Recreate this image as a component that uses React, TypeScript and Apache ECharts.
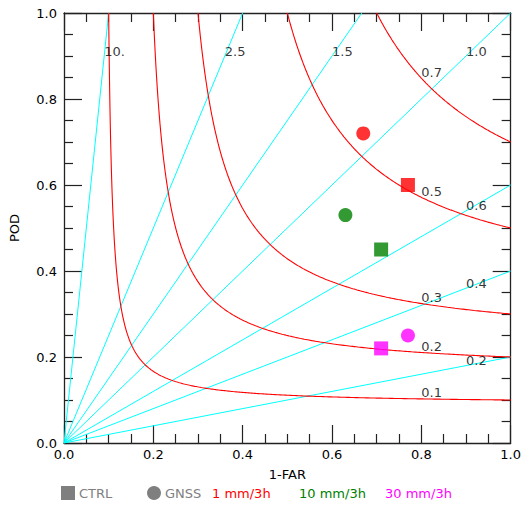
import React, { useEffect, useRef } from "react";
import * as echarts from "echarts";

// Reference lines of the performance diagram
const biasLevels = [10, 2.5, 1.5, 1.0, 0.6, 0.4, 0.2];
const biasLabels = ["10.", "2.5", "1.5", "1.0", "0.6", "0.4", "0.2"];
const csiLevels = [0.1, 0.2, 0.3, 0.5, 0.7];
const csiLabels = ["0.1", "0.2", "0.3", "0.5", "0.7"];

// Tick labels
const tickValues = [0, 0.2, 0.4, 0.6, 0.8, 1.0];

// Scores (x = 1-FAR, y = POD) per threshold
const thresholds = ["1 mm/3h", "10 mm/3h", "30 mm/3h"];
const thresholdColors = ["#ff0000", "#008000", "#ff00ff"];
const ctrlSR = [0.77, 0.71, 0.71];
const ctrlPOD = [0.6, 0.45, 0.22];
const gnssSR = [0.67, 0.63, 0.77];
const gnssPOD = [0.72, 0.53, 0.25];

const FONT = "DejaVu Sans";

function csiCurve(csi: number): number[][] {
  const pts: number[][] = [];
  const n = 300;
  for (let i = 0; i <= n; i++) {
    const t = i / n;
    const sr = csi + (1 - csi) * t * t;
    const pod = 1 / (1 / csi + 1 - 1 / sr);
    pts.push([sr, Math.min(1, pod)]);
  }
  return pts;
}

export default function App() {
  const ref = useRef<HTMLDivElement>(null);
  useEffect(() => {
    if (!ref.current) return;
    const chart = echarts.init(ref.current, undefined, { renderer: "svg" });
    const axisColor = "#222";
    const baseAxis = {
      min: 0,
      max: 1,
      interval: 0.2,
      axisLine: { show: true, onZero: false, lineStyle: { color: axisColor, width: 1.3 } },
      axisTick: { show: true, inside: true, length: 18, lineStyle: { color: axisColor, width: 1.2 } },
      minorTick: { show: true, splitNumber: 4, length: 9, lineStyle: { color: axisColor, width: 1.2 } },
      splitLine: { show: false },
    };
    const series: any[] = [];
    biasLevels.forEach((b) => {
      series.push({
        type: "line",
        data: [
          [0, 0],
          [Math.min(1, 1 / b), Math.min(1, b)],
        ],
        symbol: "none",
        silent: true,
        lineStyle: { color: "#00ffff", width: 1 },
        z: 2,
      });
    });
    csiLevels.forEach((c) => {
      series.push({
        type: "line",
        data: csiCurve(c),
        symbol: "none",
        silent: true,
        lineStyle: { color: "#ff0000", width: 1.1 },
        z: 3,
      });
    });
    const biasLabelData = biasLevels.map((b, i) =>
      b >= 1 ? [0.9 / b, 0.9, biasLabels[i]] : [0.9, 0.9 * b, biasLabels[i]]
    );
    const csiLabelData = csiLevels.map((c, i) => [0.8, 1 / (1 / c + 1 - 1 / 0.8), csiLabels[i]]);
    const labelSeries = (data: any[], dy: number) => ({
      type: "scatter",
      data,
      symbolSize: 0,
      silent: true,
      z: 4,
      label: {
        show: true,
        position: [0, 0],
        align: "left",
        verticalAlign: "middle",
        offset: [0, dy],
        formatter: (p: any) => p.data[2],
        fontFamily: FONT,
        fontSize: 13,
        color: "#000",
      },
    });
    series.push(labelSeries(biasLabelData, -5));
    series.push(labelSeries(csiLabelData, -6));
    thresholds.forEach((t, i) => {
      series.push({
        type: "scatter",
        name: "CTRL " + t,
        data: [[ctrlSR[i], ctrlPOD[i]]],
        symbol: "rect",
        symbolSize: 14,
        itemStyle: { color: thresholdColors[i] },
        z: 5,
      });
      series.push({
        type: "scatter",
        name: "GNSS " + t,
        data: [[gnssSR[i], gnssPOD[i]]],
        symbol: "circle",
        symbolSize: 14,
        itemStyle: { color: thresholdColors[i] },
        z: 5,
      });
    });

    const legendFont = `13px "${FONT}"`;
    const legendY = 493;
    const textEl = (text: string, x: number, color: string) => ({
      type: "text",
      x,
      y: legendY,
      style: {
        text,
        font: legendFont,
        fill: color,
        align: "left",
        verticalAlign: "middle",
        textAlign: "left",
        textVerticalAlign: "middle",
      },
    });

    chart.setOption({
      animation: false,
      grid: { left: 60, top: 13, width: 452, height: 430, containLabel: false },
      xAxis: [
        {
          ...baseAxis,
          type: "value",
          position: "bottom",
          name: "1-FAR",
          nameLocation: "middle",
          nameGap: 25,
          nameTextStyle: { fontFamily: FONT, fontSize: 13, color: "#000" },
          axisLabel: {
            show: true,
            margin: 5,
            fontFamily: FONT,
            fontSize: 13,
            color: "#000",
            formatter: (v: number) => (tickValues.some((t) => Math.abs(t - v) < 1e-6) ? v.toFixed(1) : ""),
          },
        },
        { ...baseAxis, type: "value", position: "top", axisLabel: { show: false } },
      ],
      yAxis: [
        {
          ...baseAxis,
          type: "value",
          position: "left",
          name: "POD",
          nameLocation: "middle",
          nameGap: 43,
          nameTextStyle: { fontFamily: FONT, fontSize: 13, color: "#000" },
          axisLabel: {
            show: true,
            margin: 7,
            fontFamily: FONT,
            fontSize: 13,
            color: "#000",
            formatter: (v: number) => v.toFixed(1),
          },
        },
        { ...baseAxis, type: "value", position: "right", axisLabel: { show: false } },
      ],
      series,
      graphic: [
        { type: "rect", shape: { x: 61, y: 486, width: 14, height: 14 }, style: { fill: "#7f7f7f" } },
        textEl("CTRL", 79, "#808080"),
        { type: "circle", shape: { cx: 154, cy: 493, r: 7 }, style: { fill: "#7f7f7f" } },
        textEl("GNSS", 165, "#808080"),
        textEl(thresholds[0], 212, thresholdColors[0]),
        textEl(thresholds[1], 299, thresholdColors[1]),
        textEl(thresholds[2], 385, thresholdColors[2]),
      ],
    });
    return () => chart.dispose();
  }, []);
  return (
    <div
      ref={ref}
      style={{ position: "fixed", left: 0, top: 0, width: 524, height: 509, background: "#fff" }}
    />
  );
}
